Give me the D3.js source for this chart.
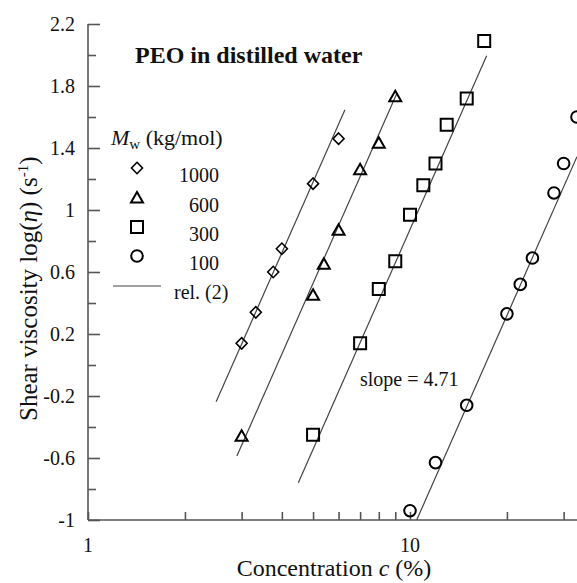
<!DOCTYPE html>
<html><head><meta charset="utf-8">
<script src="https://cdn.jsdelivr.net/npm/d3@7"></script>
</head>
<body style="margin:0;background:#fff;"><svg id="chart" width="577" height="583"></svg>
<script>
// ---- data ----
const seriesNames = ["1000","600","300","100"];
const seriesSymbols = ["diamond","triangle","square","circle"];
const conc1000 = [3.0, 3.32, 3.76, 4.0, 5.0, 6.0];
const eta1000  = [0.14, 0.34, 0.60, 0.75, 1.17, 1.46];
const conc600  = [3.0, 5.0, 5.4, 6.0, 7.0, 8.0, 9.0];
const eta600   = [-0.46, 0.45, 0.65, 0.87, 1.26, 1.43, 1.73];
const conc300  = [5.0, 7.0, 8.0, 9.0, 10.0, 11.0, 12.0, 13.0, 15.0, 17.0];
const eta300   = [-0.45, 0.14, 0.49, 0.67, 0.97, 1.16, 1.30, 1.55, 1.72, 2.09];
const conc100  = [10.0, 12.0, 15.0, 20.0, 22.0, 24.0, 28.0, 30.0, 33.0];
const eta100   = [-0.94, -0.63, -0.26, 0.33, 0.52, 0.69, 1.11, 1.30, 1.60];
// rel. (2): log(eta) = slope*log(c) + intercept, drawn between c0 and c1
const relSlope = 4.71;
const relIntercept = [-2.112, -2.765, -3.836, -5.808];
const relC0 = [2.5, 2.9, 4.5, 10.49];
const relC1 = [6.28, 9.1, 17.3, 33];
const yTicks = [-1, -0.6, -0.2, 0.2, 0.6, 1, 1.4, 1.8, 2.2];
const yTickLabels = ["-1", "-0.6", "-0.2", "0.2", "0.6", "1", "1.4", "1.8", "2.2"];
const yMinorTicks = [-0.8, -0.4, 0, 0.4, 0.8, 1.2, 1.6, 2.0];
const xTickLabels = [1, 10];
const xTicks = [1,2,3,4,5,6,7,8,9,10,20,30];

const seriesConc = [conc1000, conc600, conc300, conc100];
const seriesEta = [eta1000, eta600, eta300, eta100];

const FONT = "Liberation Serif";

// ---- scales ----
const svg = d3.select("#chart");
const x = d3.scaleLog().domain([1, 33]).range([88, 88 + 322*Math.log10(33)]);
const y = d3.scaleLinear().domain([-1, 2.2]).range([520, 24]);
const axisColor = "#555";

// ---- axes ----
const gy = svg.append("g").attr("transform","translate(88,0)");
gy.call(d3.axisRight(y).tickValues(yTicks).tickSize(12).tickFormat(""));
gy.append("g").call(d3.axisRight(y).tickValues(yMinorTicks).tickSize(8).tickFormat(""));
gy.selectAll("path.domain").filter((d,i,n)=>i>0).remove();
gy.selectAll("path,line").attr("stroke",axisColor).attr("stroke-width",1.6);
gy.selectAll("path.domain").attr("d","M0,24V520");

const gx = svg.append("g").attr("transform","translate(0,520)");
gx.call(d3.axisTop(x).tickValues(xTicks).tickSize(8).tickFormat(""));
gx.selectAll("path,line").attr("stroke",axisColor).attr("stroke-width",1.6);
gx.select("path.domain").attr("d","M88,0H577");

function txt(sel, size){ return sel.append("text").attr("font-family",FONT).attr("font-size",size).attr("fill","#111"); }

// tick labels
yTicks.forEach((d,i)=>{
  txt(svg,20).attr("x",75).attr("y",y(d)+7).attr("text-anchor","end").text(yTickLabels[i]);
});
xTickLabels.forEach(d=>{
  txt(svg,20).attr("x",x(d)).attr("y",552).attr("text-anchor","middle").text(d);
});

// axis titles
const xl = txt(svg,24).attr("x",334).attr("y",576).attr("text-anchor","middle");
xl.append("tspan").text("Concentration ");
xl.append("tspan").attr("font-style","italic").text("c");
xl.append("tspan").text(" (%)");

const yl = txt(svg,25).attr("transform","translate(37,421) rotate(-90)").attr("text-anchor","start");
yl.append("tspan").text("Shear viscosity log(");
yl.append("tspan").attr("font-style","italic").text("η");
yl.append("tspan").text(") (s");
yl.append("tspan").attr("dy",-9).attr("font-size",15).text("-1");
yl.append("tspan").attr("dy",9).text(")");

// title
txt(svg,24).attr("x",135).attr("y",63).attr("font-weight","bold").text("PEO in distilled water");

// ---- relation lines ----
const line = d3.line().x(d=>x(d[0])).y(d=>y(d[1]));
svg.append("g").selectAll("path").data(relIntercept).join("path")
  .attr("d",(b,i)=>line([[relC0[i], relSlope*Math.log10(relC0[i])+b],[relC1[i], relSlope*Math.log10(relC1[i])+b]]))
  .attr("fill","none").attr("stroke","#444").attr("stroke-width",1.2);

// ---- markers ----
function symPath(type){
  if(type==="diamond") return "M0,-5.7L5.5,0L0,5.7L-5.5,0Z";
  if(type==="triangle") return "M0,-6L6,4.5L-6,4.5Z";
  if(type==="square") return "M-6,-6H6V6H-6Z";
  return null;
}
function drawMarker(g, type, cx, cy){
  if(type==="circle"){
    g.append("circle").attr("cx",cx).attr("cy",cy).attr("r",5.8)
      .attr("fill","none").attr("stroke","#000").attr("stroke-width",2);
  } else {
    g.append("path").attr("d",symPath(type)).attr("transform",`translate(${cx},${cy})`)
      .attr("fill","none").attr("stroke","#000").attr("stroke-width",type==="diamond"?1.6:2);
  }
}
const gm = svg.append("g");
seriesConc.forEach((cs,i)=>{
  cs.forEach((c,j)=>drawMarker(gm, seriesSymbols[i], x(c), y(seriesEta[i][j])));
});

// ---- legend ----
const lg = svg.append("g");
const lh = txt(svg,22).attr("x",111).attr("y",145);
lh.append("tspan").attr("font-style","italic").text("M");
lh.append("tspan").attr("dy",4).attr("font-size",15).text("w");
lh.append("tspan").attr("dy",-4).text(" (kg/mol)");
const legY = [168, 198, 227, 256];
seriesNames.forEach((n,i)=>{
  drawMarker(lg, seriesSymbols[i], 137, legY[i]);
  txt(svg,20).attr("x",219).attr("y",legY[i]+14).attr("text-anchor","end").text(n);
});
lg.append("line").attr("x1",113).attr("x2",161).attr("y1",286).attr("y2",286).attr("stroke","#444").attr("stroke-width",1.2);
txt(svg,20).attr("x",174).attr("y",299).text("rel. (2)");

// slope annotation
txt(svg,20).attr("x",360).attr("y",386).text("slope = 4.71");
</script></body></html>
